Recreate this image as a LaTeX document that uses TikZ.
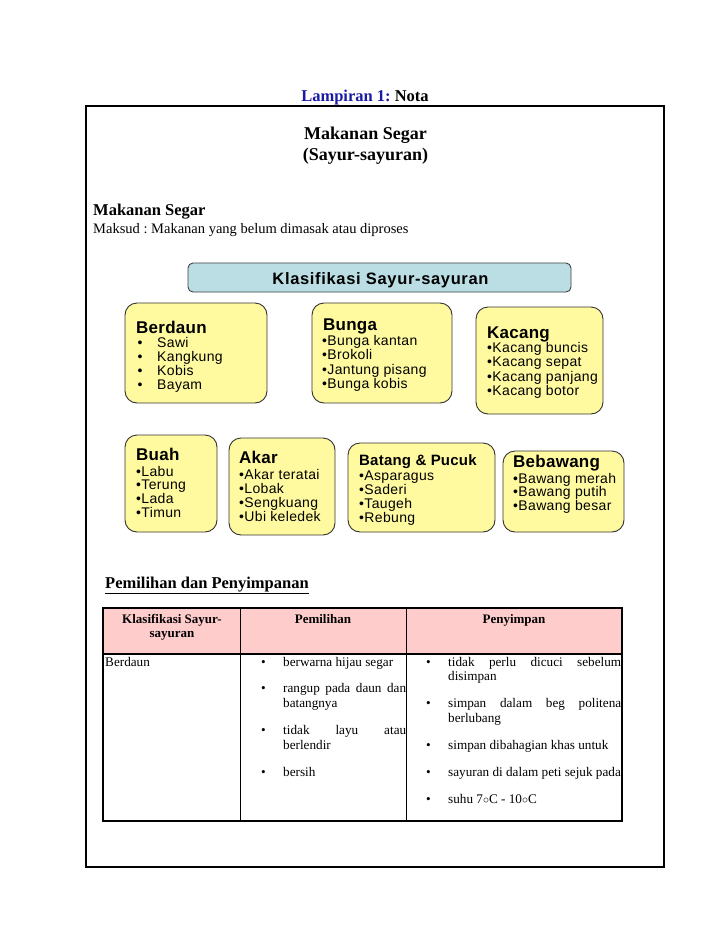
\documentclass[tikz,border=0pt]{standalone}
\usepackage{fontspec}
\setmainfont{Liberation Serif}
\newfontfamily\bxitemfont[LetterSpace=2.5]{Liberation Sans}
\newfontfamily\bxtitlefont[LetterSpace=1.5]{Liberation Sans}
\newfontfamily\bxklasfont[LetterSpace=4]{Liberation Sans}
\definecolor{boxyel}{RGB}{255,250,160}
\definecolor{klasblue}{RGB}{186,222,228}
\definecolor{hdrpink}{RGB}{255,204,204}
\definecolor{lampblue}{RGB}{26,26,165}
\tikzset{
  ybox/.style={draw=black!80, line width=0.9pt, rounded corners=12pt, fill=boxyel, inner sep=0pt},
  kbox/.style={draw=black!75, line width=0.9pt, rounded corners=5pt, fill=klasblue, inner sep=0pt},
  itm/.style={anchor=base west, inner sep=0pt, font=\bxitemfont\fontsize{14}{14}\selectfont},
  ttl/.style={anchor=base west, inner sep=0pt, font=\bxtitlefont\bfseries\fontsize{17}{17}\selectfont},
  body/.style={anchor=base west, inner sep=0pt, font=\fontsize{13.2}{14}\selectfont},
  hdr/.style={anchor=base, inner sep=0pt, font=\bfseries\fontsize{13}{14}\selectfont},
  heading/.style={inner sep=0pt, font=\bfseries\fontsize{16.5}{18}\selectfont},
}
\begin{document}
\frenchspacing
\begin{tikzpicture}[x=1pt,y=-1pt]
\useasboundingbox[fill=white] (0,0) rectangle (728,943);

% header
\node[heading, anchor=base] (lamp) at (365,101) {\textcolor{lampblue}{Lampiran 1:} Nota};
\draw[line width=2.8pt] (86,106) rectangle (664,867);
\node[anchor=base, inner sep=0pt, font=\bfseries\fontsize{18}{20}\selectfont] (title1) at (365.5,139) {Makanan Segar};
\node[anchor=base, inner sep=0pt, font=\bfseries\fontsize{18}{20}\selectfont] (title2) at (365.5,160) {(Sayur-sayuran)};
\node[heading, anchor=base west] (mseg) at (93,215) {Makanan Segar};
\node[anchor=base west, inner sep=0pt, font=\fontsize{14.5}{16}\selectfont] (maksud) at (93,233) {Maksud : Makanan yang belum dimasak atau diproses};

% classification
\node[kbox, minimum width=383pt, minimum height=29pt] (klas) at (379.5,277.5) {};
\node[anchor=base, inner sep=0pt, font=\bxklasfont\bfseries\fontsize{16.5}{16}\selectfont] (klastxt) at (380.5,284) {Klasifikasi Sayur-sayuran};

% row 1
\node[ybox, minimum width=142pt, minimum height=100pt] (berdaun) at (196,353) {};
\node[ttl] (berdaunT) at (136,333) {Berdaun};
\foreach \t [count=\i] in {Sawi,Kangkung,Kobis,Bayam}
  \node[itm] (bd\i) at (137.5,{347+14.1*(\i-1)}) {\makebox[19.5pt][l]{•}\t};

\node[ybox, minimum width=140pt, minimum height=100pt] (bunga) at (382,353) {};
\node[ttl] (bungaT) at (323,330) {Bunga};
\foreach \t [count=\i] in {Bunga kantan,Brokoli,Jantung pisang,Bunga kobis}
  \node[itm] (bg\i) at (322,{345.5+14.3*(\i-1)}) {•\t};

\node[ybox, minimum width=127pt, minimum height=107pt] (kacang) at (539.5,360.5) {};
\node[ttl] (kacangT) at (487,338) {Kacang};
\foreach \t [count=\i] in {Kacang buncis,Kacang sepat,Kacang panjang,Kacang botor}
  \node[itm] (kc\i) at (487,{352.5+14.4*(\i-1)}) {•\t};

% row 2
\node[ybox, minimum width=92pt, minimum height=97pt] (buah) at (171,483.5) {};
\node[ttl] (buahT) at (136,460) {Buah};
\foreach \t [count=\i] in {Labu,Terung,Lada,Timun}
  \node[itm] (bu\i) at (136,{476+13.9*(\i-1)}) {•\t};

\node[ybox, minimum width=106pt, minimum height=97pt] (akar) at (282,486.5) {};
\node[ttl] (akarT) at (239,463) {Akar};
\foreach \t [count=\i] in {Akar teratai,Lobak,Sengkuang,Ubi keledek}
  \node[itm] (ak\i) at (239,{479+14.2*(\i-1)}) {•\t};

\node[ybox, minimum width=147pt, minimum height=89pt] (batang) at (421.5,487.5) {};
\node[ttl, font=\bxtitlefont\bfseries\fontsize{15}{15}\selectfont] (batangT) at (359,465) {Batang \& Pucuk};
\foreach \t [count=\i] in {Asparagus,Saderi,Taugeh,Rebung}
  \node[itm] (bt\i) at (359,{480+14.2*(\i-1)}) {•\t};

\node[ybox, minimum width=121pt, minimum height=81pt] (bebawang) at (563.5,491.5) {};
\node[ttl] (bebawangT) at (513,467) {Bebawang};
\foreach \t [count=\i] in {Bawang merah,Bawang putih,Bawang besar}
  \node[itm] (bb\i) at (513,{483+13.7*(\i-1)}) {•\t};

% table
\node[heading, anchor=base west] (pemtitle) at (105,588) {\underline{Pemilihan dan Penyimpanan}};
\fill[hdrpink] (103,608) rectangle (622,654);
\draw[line width=0.8pt] (240,608) -- (240,821);
\draw[line width=0.8pt] (406,608) -- (406,821);
\draw[line width=2pt] (103,654) -- (622,654);
\draw[line width=2.4pt] (103,608) rectangle (622,821);

\node[hdr] (h1a) at (172,623) {Klasifikasi Sayur-};
\node[hdr] (h1b) at (172,637) {sayuran};
\node[hdr] (h2) at (323,623) {Pemilihan};
\node[hdr] (h3) at (514,623) {Penyimpan};

\node[body] (c1) at (105,666) {Berdaun};

\node[body] (b2a) at (261,666) {•};
\node[body] (p2a) at (283,666) {berwarna hijau segar};
\node[body] (b2b) at (261,692) {•};
\node[body] (p2b) at (283,692) {\makebox[123pt][s]{rangup pada daun dan}};
\node[body] (p2c) at (283,707) {batangnya};
\node[body] (b2d) at (261,734) {•};
\node[body] (p2d) at (283,734) {\makebox[123pt][s]{tidak layu atau}};
\node[body] (p2e) at (283,749) {berlendir};
\node[body] (b2f) at (261,776) {•};
\node[body] (p2f) at (283,776) {bersih};

\node[body] (b3a) at (426,666) {•};
\node[body] (p3a) at (448,666) {\makebox[173pt][s]{tidak perlu dicuci sebelum}};
\node[body] (p3b) at (448,680) {disimpan};
\node[body] (b3c) at (426,707) {•};
\node[body] (p3c) at (448,707) {\makebox[173pt][s]{simpan dalam beg politena}};
\node[body] (p3d) at (448,722) {berlubang};
\node[body] (b3e) at (426,749) {•};
\node[body] (p3e) at (448,749) {simpan dibahagian khas untuk};
\node[body] (b3f) at (426,776) {•};
\node[body] (p3f) at (448,776) {sayuran di dalam peti sejuk pada};
\node[body] (b3g) at (426,803) {•};
\node[body] (p3g) at (448,803) {suhu 7$\circ$C - 10$\circ$C};
\end{tikzpicture}
\end{document}
